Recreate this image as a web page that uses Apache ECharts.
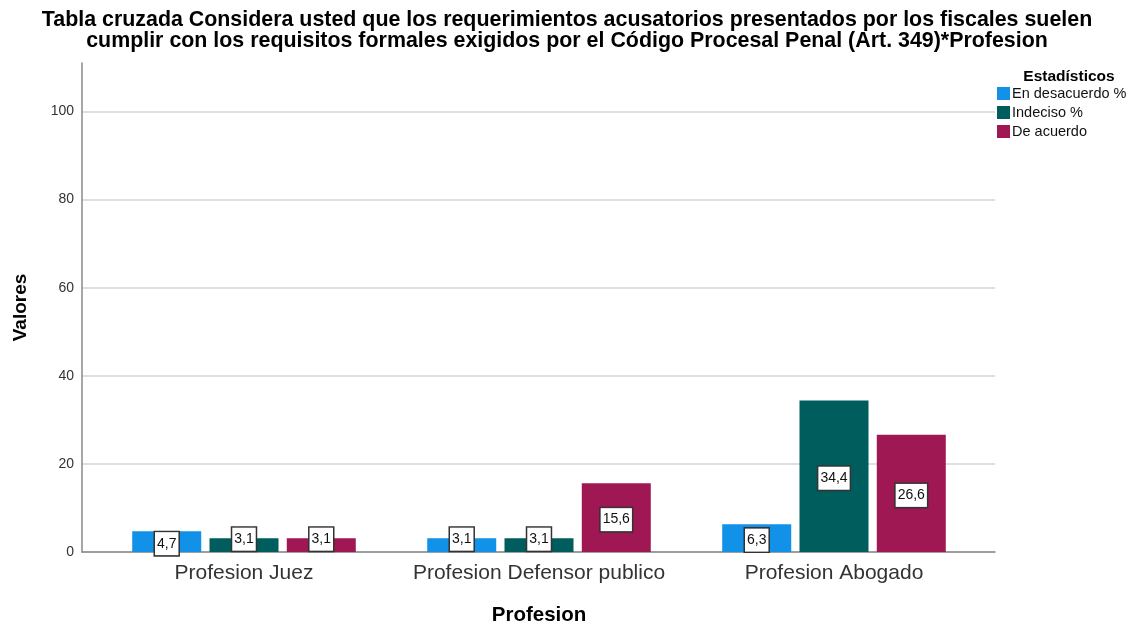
<!DOCTYPE html>
<html>
<head>
<meta charset="utf-8">
<script src="https://cdn.jsdelivr.net/npm/echarts@6/dist/echarts.min.js"></script>
<style>
  html, body { margin: 0; padding: 0; background: #fff; }
  #chart { width: 1134px; height: 627px; }
</style>
</head>
<body>
<div id="chart"></div>
<script>
// datos
const categorias = ['Profesion Juez', 'Profesion Defensor publico', 'Profesion Abogado'];
const enDesacuerdo = [4.7, 3.1, 6.3];
const indeciso = [3.1, 3.1, 34.4];
const deAcuerdo = [3.1, 15.6, 26.6];
const nombresSeries = ['En desacuerdo %', 'Indeciso %', 'De acuerdo'];
const colores = ['#1192e8', '#005d5d', '#9f1853'];

const chart = echarts.init(document.getElementById('chart'));
const fuente = '"Liberation Sans", Arial, sans-serif';
const yMax = 111;

// etiqueta con recuadro blanco, coma decimal
function etiqueta(v) {
    return {
        show: true,
        position: 'inside',
        offset: v < 4 ? [0, -6] : [0, 2],
        formatter: p => String(p.value).replace('.', ','),
        backgroundColor: '#fff',
        borderColor: '#333',
        borderWidth: 1.5,
        padding: [5, 2, 4, 2],
        fontFamily: fuente,
        fontSize: 14,
        color: '#111'
    };
}

function serie(nombre, valores, i) {
    return {
        name: nombre,
        type: 'bar',
        xAxisIndex: 1,
        yAxisIndex: 1,
        barWidth: 69,
        barGap: '12%',
        itemStyle: { color: colores[i] },
        data: valores.map(v => ({ value: v, label: etiqueta(v) }))
    };
}

chart.setOption({
    animation: false,
    textStyle: { fontFamily: fuente },
    title: [{
        text: 'Tabla cruzada Considera usted que los requerimientos acusatorios presentados por los fiscales suelen\ncumplir con los requisitos formales exigidos por el Código Procesal Penal (Art. 349)*Profesion',
        left: 'center',
        top: 5,
        textStyle: { fontFamily: fuente, fontSize: 21.4, fontWeight: 'bold', color: '#000', lineHeight: 21 }
    }, {
        text: 'Estadísticos',
        left: 1064,
        top: 64,
        textAlign: 'center',
        textStyle: { fontFamily: fuente, fontSize: 15.5, fontWeight: 'bold', color: '#000' }
    }],
    legend: {
        orient: 'vertical',
        left: 997,
        top: 86,
        padding: 0,
        itemWidth: 13,
        itemHeight: 13,
        itemGap: 4,
        icon: 'rect',
        textStyle: { fontFamily: fuente, fontSize: 14.5, color: '#111', padding: [0, 0, 0, -3] },
        data: nombresSeries
    },
    grid: [
        { left: 82, right: 139, top: 63, bottom: 75, outerBoundsMode: 'none' },
        { left: 96.5, right: 152.5, top: 63, bottom: 75, outerBoundsMode: 'none' }
    ],
    xAxis: [{
        gridIndex: 0,
        type: 'category',
        data: [''],
        axisLine: { lineStyle: { color: '#888', width: 1.5 } },
        axisTick: { show: false },
        axisLabel: { show: false }
    }, {
        gridIndex: 1,
        type: 'category',
        data: categorias,
        axisLine: { show: false },
        axisTick: { show: false },
        axisLabel: { interval: 0, hideOverlap: false, fontFamily: fuente, fontSize: 21, color: '#333', margin: 11 },
        name: 'Profesion',
        nameLocation: 'middle',
        nameGap: 53,
        nameTextStyle: { fontFamily: fuente, fontSize: 20.5, fontWeight: 'bold', color: '#000' }
    }],
    yAxis: [{
        gridIndex: 0,
        type: 'value',
        min: 0,
        max: yMax,
        interval: 20,
        axisLine: { show: true, lineStyle: { color: '#888', width: 1.5 } },
        axisTick: { show: false },
        axisLabel: { fontFamily: fuente, fontSize: 14, color: '#333', margin: 8, showMaxLabel: false },
        splitLine: { show: true, showMaxLine: false, lineStyle: { color: '#d4d4d4', width: 1.5 } },
        name: 'Valores',
        nameLocation: 'middle',
        nameGap: 52,
        nameTextStyle: { fontFamily: fuente, fontSize: 19, fontWeight: 'bold', color: '#000' }
    }, {
        gridIndex: 1,
        type: 'value',
        min: 0,
        max: yMax,
        show: false
    }],
    series: [
        serie(nombresSeries[0], enDesacuerdo, 0),
        serie(nombresSeries[1], indeciso, 1),
        serie(nombresSeries[2], deAcuerdo, 2)
    ]
});
</script>
</body>
</html>
